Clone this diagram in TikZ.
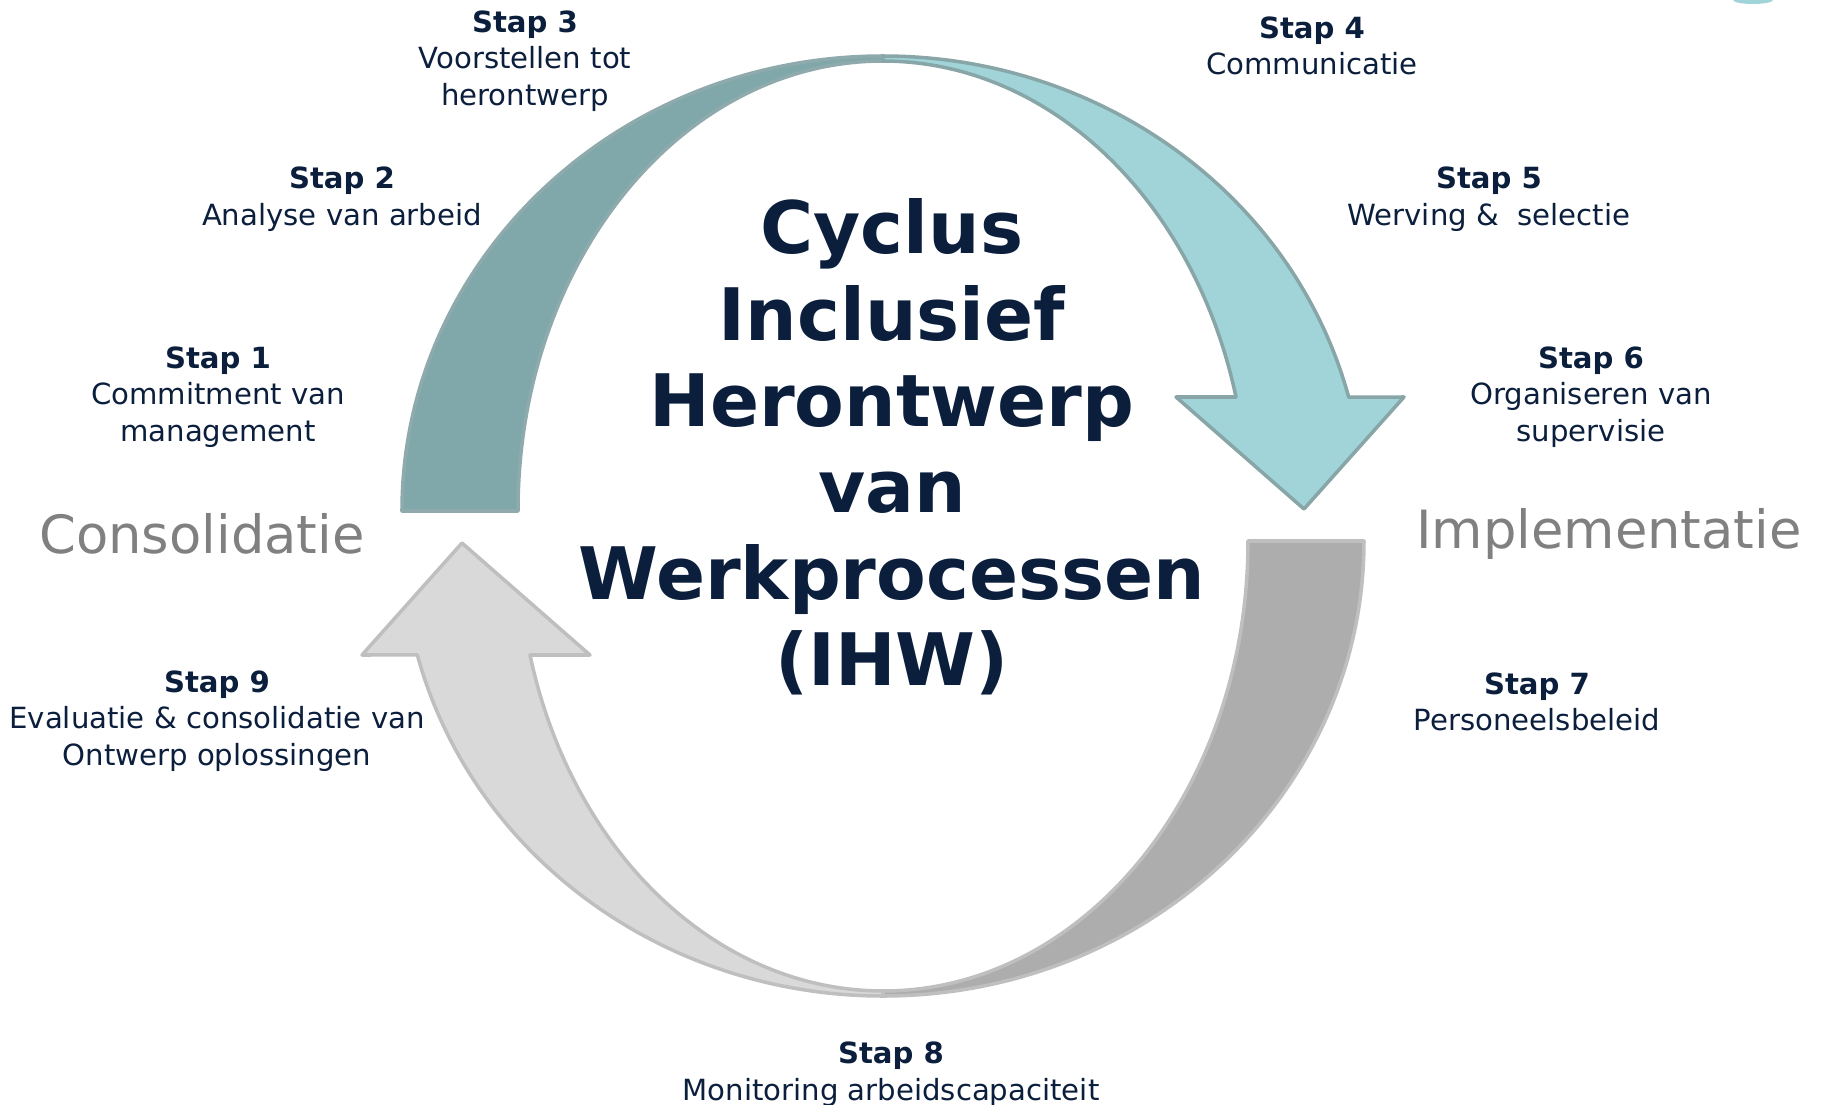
\documentclass[tikz,border=0pt]{standalone}
\usepackage{fontspec}
\setmainfont{DejaVu Sans}
\usepackage{xcolor}
\definecolor{navy}{HTML}{0B1F3D}
\definecolor{tealdark}{HTML}{80A8AA}
\definecolor{tealdarkline}{HTML}{8EAAAC}
\definecolor{teallight}{HTML}{A0D4D8}
\definecolor{teallightline}{HTML}{88A5A7}
\definecolor{greydark}{HTML}{ADADAD}
\definecolor{greylight}{HTML}{D9D9D9}
\definecolor{greyline}{HTML}{BFBFBF}
\definecolor{phasegrey}{HTML}{808080}

\tikzset{
	stap/.style={align=center, text=navy, font=\fontsize{8.3}{10.4}\selectfont},
	phase/.style={text=phasegrey, font=\fontsize{15}{18}\selectfont},
	hoofd/.style={align=center, text=navy, font=\bfseries\fontsize{20.6}{24.6}\selectfont},
	band/.style={line width=1pt, line join=round},
}

\begin{document}
\begin{tikzpicture}[x=0.1mm, y=0.1mm]
		\useasboundingbox (-883,-578) rectangle (939,526);
		% upper half of the cycle
		\filldraw[band, fill=tealdark, draw=tealdarkline] (-481,15) arc[start angle=180, end angle=90, x radius=481, y radius=455]
			-- (0,465) arc[start angle=90, end angle=180, x radius=365, y radius=450] -- cycle;
		\filldraw[band, fill=teallight, draw=teallightline] (0,470) arc[start angle=90, end angle=14.5, x radius=481, y radius=455]
			-- (521,129) -- (421,17) -- (293,129) -- (353,129)
			arc[start angle=14.68, end angle=90, x radius=365, y radius=450] -- cycle;
		% lower half
		\filldraw[band, fill=greylight, draw=greyline] (0,-470) arc[start angle=270, end angle=194.5, x radius=481, y radius=455]
			-- (-521,-129) -- (-421,-17) -- (-293,-129) -- (-353,-129)
			arc[start angle=194.68, end angle=270, x radius=365, y radius=450] -- cycle;
		\filldraw[band, fill=greydark, draw=greyline] (481,-15) arc[start angle=0, end angle=-90, x radius=481, y radius=455]
			-- (0,-465) arc[start angle=-90, end angle=0, x radius=365, y radius=450] -- cycle;
		\fill[teallight] (850,526) arc[start angle=180, end angle=360, x radius=20, y radius=4] -- cycle;

		\node[hoofd] (cyclus) at (9,79) {Cyclus\\Inclusief\\Herontwerp\\van\\Werkprocessen\\(IHW)};

		\node[phase] (cons) at (-681,-8) {Consolidatie};
		\node[phase] (impl) at (726,-8) {Implementatie};

		\node[stap] (stap1) at (-665,129) {\textbf{Stap 1}\\Commitment van\\management};
		\node[stap] (stap2) at (-541,327) {\textbf{Stap 2}\\Analyse van arbeid};
		\node[stap] (stap3) at (-358,465) {\textbf{Stap 3}\\Voorstellen tot\\herontwerp};
		\node[stap] (stap4) at (429,480) {\textbf{Stap 4}\\Communicatie};
		\node[stap] (stap5) at (606,327) {\textbf{Stap 5}\\Werving \&~ selectie};
		\node[stap] (stap6) at (708,129) {\textbf{Stap 6}\\Organiseren van\\supervisie};
		\node[stap] (stap7) at (654,-176) {\textbf{Stap 7}\\Personeelsbeleid};
		\node[stap] (stap8) at (8,-548) {\textbf{Stap 8}\\Monitoring arbeidscapaciteit};
		\node[stap] (stap9) at (-666,-195) {\textbf{Stap 9}\\Evaluatie \& consolidatie van\\Ontwerp oplossingen};
	\end{tikzpicture}
\end{document}
